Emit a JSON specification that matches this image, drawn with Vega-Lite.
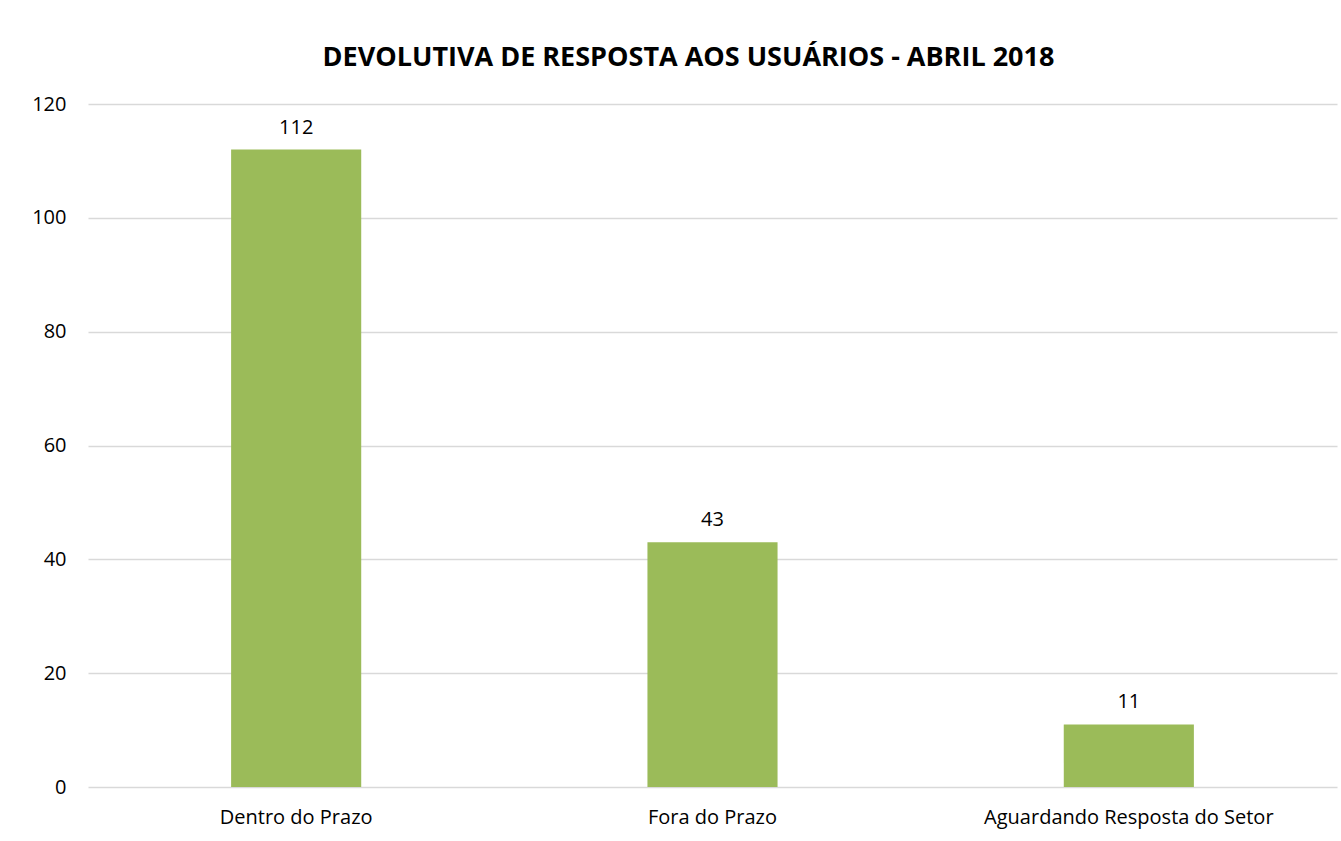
{
  "$schema": "https://vega.github.io/schema/vega-lite/v6.json",
  "width": 1249,
  "height": 683,
  "autosize": "none",
  "padding": {"left": 88, "top": 104, "right": 4, "bottom": 54},
  "background": "white",
  "config": {
    "font": "Open Sans",
    "view": {"stroke": null}
  },
  "title": {
    "text": "DEVOLUTIVA DE RESPOSTA AOS USUÁRIOS - ABRIL 2018",
    "fontSize": 27,
    "fontWeight": "bold",
    "color": "#000000",
    "anchor": "middle",
    "dx": -24,
    "offset": 22,
    "font": "Open Sans"
  },
  "data": {
    "values": [
      {"categoria": "Dentro do Prazo", "valor": 112},
      {"categoria": "Fora do Prazo", "valor": 43},
      {"categoria": "Aguardando Resposta do Setor", "valor": 11}
    ]
  },
  "encoding": {
    "x": {
      "field": "categoria",
      "type": "nominal",
      "sort": null,
      "scale": {"paddingInner": 0.6875, "paddingOuter": 0.34375},
      "axis": {
        "title": null,
        "labelAngle": 0,
        "labelFontSize": 20,
        "labelColor": "#000000",
        "labelPadding": 20,
        "labelLimit": 0,
        "ticks": false,
        "domain": false
      }
    },
    "y": {
      "field": "valor",
      "type": "quantitative",
      "scale": {"domain": [0, 120], "nice": false},
      "axis": {
        "title": null,
        "values": [0, 20, 40, 60, 80, 100, 120],
        "labelFontSize": 20,
        "labelColor": "#000000",
        "labelPadding": 22,
        "ticks": false,
        "domain": false,
        "gridColor": "#d9d9d9",
        "gridWidth": 1.3
      }
    }
  },
  "layer": [
    {"mark": {"type": "bar", "color": "#9BBB59"}},
    {
      "mark": {"type": "text", "baseline": "alphabetic", "dy": -16, "fontSize": 20, "color": "#000000"},
      "encoding": {"text": {"field": "valor", "type": "quantitative"}}
    }
  ]
}
